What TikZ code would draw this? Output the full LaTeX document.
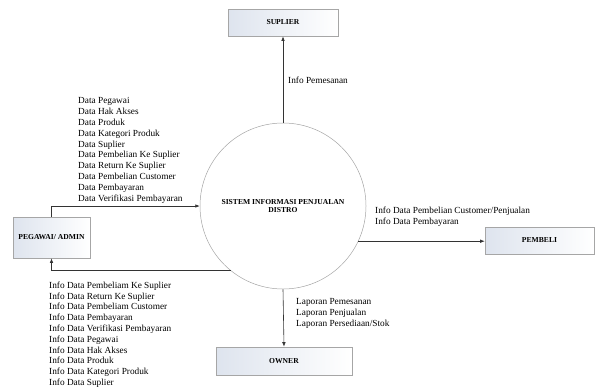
\documentclass[tikz,border=0pt]{standalone}
\usepackage{fontspec}
\setmainfont{Liberation Serif}
\usetikzlibrary{positioning,arrows.meta}

\definecolor{boxleft}{RGB}{222,228,238}

\begin{document}
\begin{tikzpicture}[
		x=1pt, y=-1pt,
		% kotak entitas luar
		entitas/.style={draw=gray!70, line width=0.6pt, left color=boxleft, right color=white,
			font=\fontsize{7.6}{9}\selectfont\bfseries, inner sep=0pt},
		% lingkaran proses
		proses/.style={circle, draw=gray!70, line width=0.5pt, fill=white, minimum size=166pt,
			align=center, font=\fontsize{7.6}{8.5}\selectfont\bfseries, inner sep=0pt},
		% daftar aliran data
		aliran/.style={align=left, inner sep=0pt, font=\fontsize{9.3}{10.8}\selectfont},
		panah/.style={-{Latex[length=4.5pt,width=3.5pt]}, draw=black!80, line width=0.6pt}
		]
		\useasboundingbox (0,0) rectangle (596,386);

		\node[proses] (sistem) at (283,206) {SISTEM INFORMASI PENJUALAN\\DISTRO};

		\node[entitas, minimum width=110pt, minimum height=27pt] (suplier) at (283,22.5) {SUPLIER};
		\node[entitas, minimum width=77pt, minimum height=41pt] (admin) at (51.5,237.5) {PEGAWAI/ ADMIN};
		\node[entitas, minimum width=109pt, minimum height=27pt] (pembeli) at (539.5,240.5) {PEMBELI};
		\node[entitas, minimum width=136pt, minimum height=28pt] (owner) at (284,361) {OWNER};

		% aliran data
		\draw[panah] (sistem.north) -- (suplier.south);
		\draw[panah] (admin.north) |- (sistem.west);
		\draw[panah] (sistem.231) -| (admin.south);
		\draw[panah] (sistem.-25) -- (sistem.-25 -| pembeli.west);
		\draw[panah] (sistem.south) -- (owner.north);

		% label aliran
		\node[aliran, anchor=west] (lblsuplier) at (288,80) {Info Pemesanan};
		\node[aliran, anchor=north west] (lbldata) at (78,97.5) {Data Pegawai\\Data Hak Akses\\Data Produk\\Data Kategori Produk\\Data Suplier\\Data Pembelian Ke Suplier\\Data Return Ke Suplier\\Data Pembelian Customer\\Data Pembayaran\\Data Verifikasi Pembayaran};
		\node[aliran, anchor=north west] (lblinfo) at (49,281.5) {Info Data Pembeliam Ke Suplier\\Info Data Return Ke Suplier\\Info Data Pembeliam Customer\\Info Data Pembayaran\\Info Data Verifikasi Pembayaran\\Info Data Pegawai\\Info Data Hak Akses\\Info Data Produk\\Info Data Kategori Produk\\Info Data Suplier};
		\node[aliran, anchor=north west] (lblpembeli) at (375,207) {Info Data Pembelian Customer/Penjualan\\Info Data Pembayaran};
		\node[aliran, anchor=north west] (lblowner) at (296,298.5) {Laporan Pemesanan\\Laporan Penjualan\\Laporan Persediaan/Stok};
	\end{tikzpicture}
\end{document}
